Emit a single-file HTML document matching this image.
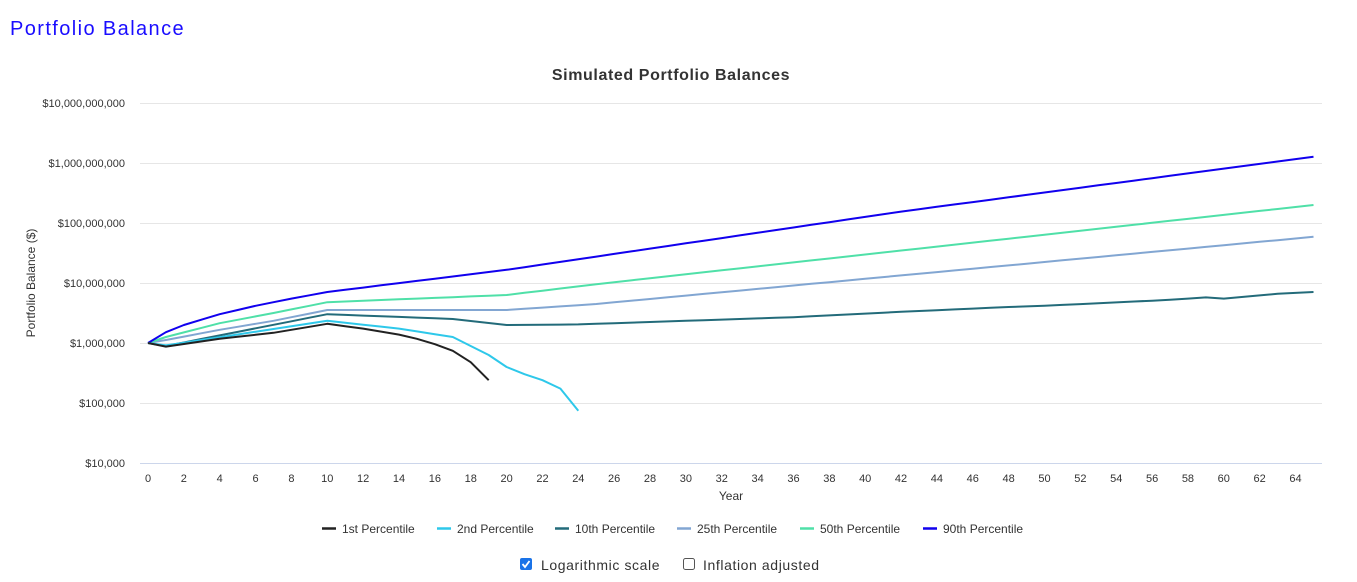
<!DOCTYPE html>
<html><head><meta charset="utf-8"><style>
body{margin:0;background:#fff;font-family:"Liberation Sans",sans-serif;}
svg{position:absolute;left:0;top:0}
</style></head><body>
<svg width="1357" height="582" xmlns="http://www.w3.org/2000/svg" font-family="Liberation Sans, sans-serif">
<text x="10" y="35" font-size="20" letter-spacing="1.4" fill="#1a0dff">Portfolio Balance</text>
<text x="671" y="80" font-size="16" font-weight="bold" letter-spacing="0.6" fill="#333" text-anchor="middle">Simulated Portfolio Balances</text>
<g stroke="#e6e6e6" stroke-width="1">
<line x1="140" x2="1322" y1="103.5" y2="103.5"/><line x1="140" x2="1322" y1="163.5" y2="163.5"/>
<line x1="140" x2="1322" y1="223.5" y2="223.5"/><line x1="140" x2="1322" y1="283.5" y2="283.5"/>
<line x1="140" x2="1322" y1="343.5" y2="343.5"/><line x1="140" x2="1322" y1="403.5" y2="403.5"/>
</g>
<line x1="140" x2="1322" y1="463.5" y2="463.5" stroke="#ccd6eb"/>
<g font-size="11" fill="#333" text-anchor="end">
<text x="125" y="107">$10,000,000,000</text><text x="125" y="167">$1,000,000,000</text>
<text x="125" y="227">$100,000,000</text><text x="125" y="287">$10,000,000</text>
<text x="125" y="347">$1,000,000</text><text x="125" y="407">$100,000</text>
<text x="125" y="467">$10,000</text>
</g>
<text transform="translate(35,283) rotate(-90)" font-size="12" fill="#333" text-anchor="middle">Portfolio Balance ($)</text>
<g id="xt" font-size="11" fill="#333" text-anchor="middle"></g>
<text x="731" y="500" font-size="12" fill="#333" text-anchor="middle">Year</text>
<g id="series" fill="none" stroke-width="2" stroke-linejoin="round"></g>
<g font-size="12" fill="#333">
<line x1="322" x2="336" y1="528.5" y2="528.5" stroke="#222" stroke-width="2.5"/><text x="342" y="533">1st Percentile</text>
<line x1="437" x2="451" y1="528.5" y2="528.5" stroke="#2ec8ea" stroke-width="2.5"/><text x="457" y="533">2nd Percentile</text>
<line x1="555" x2="569" y1="528.5" y2="528.5" stroke="#236b7a" stroke-width="2.5"/><text x="575" y="533">10th Percentile</text>
<line x1="677" x2="691" y1="528.5" y2="528.5" stroke="#82a6d2" stroke-width="2.5"/><text x="697" y="533">25th Percentile</text>
<line x1="800" x2="814" y1="528.5" y2="528.5" stroke="#4fe0a8" stroke-width="2.5"/><text x="820" y="533">50th Percentile</text>
<line x1="923" x2="937" y1="528.5" y2="528.5" stroke="#1100ee" stroke-width="2.5"/><text x="943" y="533">90th Percentile</text>
</g>
<rect x="520" y="558" width="12" height="12" rx="2" fill="#1a73e8"/>
<path d="M522.5 564 l2.5 3 l4.5 -6" stroke="#fff" stroke-width="1.8" fill="none"/>
<text x="541" y="570" font-size="14" letter-spacing="0.6" fill="#333">Logarithmic scale</text>
<rect x="683.5" y="558.5" width="11" height="11" rx="2" fill="#fff" stroke="#555"/>
<text x="703" y="570" font-size="14" letter-spacing="0.6" fill="#333">Inflation adjusted</text>
</svg>
<script>
var X=function(t){return 148+17.93*t},Y=function(d){return 343-60*d};
var xt=document.getElementById('xt'),s='';
for(var t=0;t<=64;t+=2)s+='<text x="'+X(t)+'" y="482">'+t+'</text>';
xt.innerHTML=s;
function interp(pts){var o=[];for(var i=0;i<pts.length-1;i++){var a=pts[i],b=pts[i+1];for(var t=a[0];t<b[0];t++)o.push([t,a[1]+(b[1]-a[1])*(t-a[0])/(b[0]-a[0])]);}o.push(pts[pts.length-1]);return o;}
var S=[
["#236b7a",[[0,0],[1,-0.05],[10,0.48],[17,0.4],[20,0.3],[24,0.31],[30,0.37],[36,0.43],[42,0.52],[48,0.6],[50,0.62],[57,0.72],[59,0.76],[60,0.74],[63,0.82],[65,0.85]]],
["#82a6d2",[[0,0],[1,0.05],[4,0.22],[7,0.37],[10,0.55],[20,0.55],[25,0.65],[65,1.77]]],
["#4fe0a8",[[0,0],[1,0.1],[4,0.33],[7,0.5],[10,0.68],[20,0.8],[25,0.98],[65,2.3]]],
["#1100ee",[[0,0],[1,0.18],[2,0.3],[4,0.48],[6,0.62],[8,0.74],[10,0.85],[20,1.22],[42,2.19],[65,3.105]]],
["#2ec8ea",[[0,0],[1,-0.04],[10,0.37],[14,0.24],[17,0.1],[18,-0.05],[19,-0.2],[20,-0.4],[21,-0.52],[22,-0.62],[23,-0.76],[24,-1.13]]],
["#222222",[[0,0],[1,-0.06],[4,0.07],[7,0.17],[10,0.32],[12,0.24],[14,0.14],[15,0.07],[16,-0.02],[17,-0.13],[18,-0.32],[19,-0.62]]]
];
var g='';S.forEach(function(sr){var p=interp(sr[1]).map(function(q){return X(q[0]).toFixed(1)+','+Y(q[1]).toFixed(1)}).join(' ');g+='<polyline stroke="'+sr[0]+'" points="'+p+'"/>';});
document.getElementById('series').innerHTML=g;
</script>
</body></html>
